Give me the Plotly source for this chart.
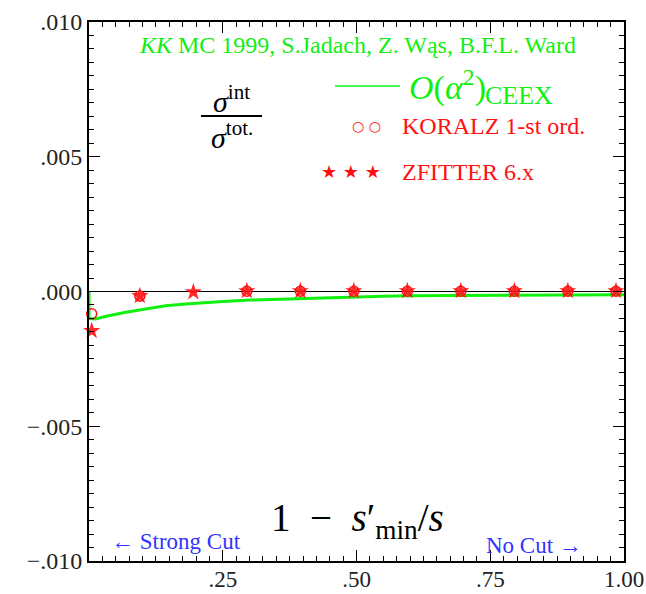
import plotly.graph_objects as go

# ---- data ----
ceex_x = [0.0, 0.0, 0.012, 0.032, 0.069, 0.106, 0.143, 0.181, 0.214, 0.25, 0.302,
          0.35, 0.396, 0.45, 0.489, 0.55, 0.60, 0.70, 0.80, 0.90, 1.0]
ceex_y = [0.0, -0.00100, -0.00102, -0.00092, -0.00077, -0.00064, -0.00053, -0.00046,
          -0.00041, -0.00037, -0.00032, -0.00029, -0.00026, -0.00023, -0.00020,
          -0.00018, -0.00016, -0.00015, -0.00014, -0.00013, -0.00012]

koralz_x = [0.005, 0.095, 0.295, 0.395, 0.495, 0.595, 0.695, 0.795, 0.895, 0.985]
koralz_y = [-0.00083, -0.00017, 0.00001, 0.00001, 0.00001, 0.00001, 0.00001,
            0.00001, 0.00001, 0.00001]

zfitter_x = [0.005, 0.095, 0.195, 0.295, 0.395, 0.495, 0.595, 0.695, 0.795, 0.895, 0.985]
zfitter_y = [-0.00146, -0.00016, -0.00002, 0.00002, 0.00002, 0.00002, 0.00002,
             0.00002, 0.00002, 0.00002, 0.00002]

x_tickvals = [0.25, 0.5, 0.75, 1.0]
x_ticktext = [".25", ".50", ".75", "1.00"]
y_tickvals = [-0.010, -0.005, 0.0, 0.005, 0.010]
y_ticktext = ["\u2212.010", "\u2212.005", ".000", ".005", ".010"]

GREEN = "#11f011"
RED = "#ff1010"
BLUE = "#3333ff"
FONT = "Liberation Serif"

fig = go.Figure()
fig.add_trace(go.Scatter(x=ceex_x, y=ceex_y, mode="lines",
                         line=dict(color=GREEN, width=3), showlegend=False))
fig.add_trace(go.Scatter(x=koralz_x, y=koralz_y, mode="markers", cliponaxis=False,
                         marker=dict(symbol="circle-open", size=10,
                                     line=dict(color=RED, width=1.5), color=RED),
                         showlegend=False))
fig.add_trace(go.Scatter(x=zfitter_x, y=zfitter_y, mode="markers", cliponaxis=False,
                         marker=dict(symbol="star", size=13, color=RED,
                                     line=dict(width=0)),
                         opacity=0.9, showlegend=False))

def px_x(p):
    return (p - 89) / 535.0

def px_y(p):
    return (561 - p) / 539.0

ann = []
ann.append(dict(text="<i>KK</i> MC 1999, S.Jadach, Z. Wąs, B.F.L. Ward",
                x=px_x(357), y=px_y(45), font=dict(size=24, color=GREEN)))
ann.append(dict(text="<i>O</i>(<i>α</i><sup>2</sup>)",
                x=px_x(407), y=px_y(86), xanchor="left",
                font=dict(size=34, color=GREEN)))
ann.append(dict(text="CEEX",
                x=px_x(555), y=px_y(95), xanchor="right",
                font=dict(size=26, color=GREEN)))
ann.append(dict(text="<i>σ</i><sup>int</sup>", x=px_x(231), y=px_y(99),
                font=dict(size=30, color="black")))
ann.append(dict(text="<i>σ</i><sup>tot.</sup>", x=px_x(232), y=px_y(135),
                font=dict(size=30, color="black")))
ann.append(dict(text="○ ○", x=px_x(366), y=px_y(126),
                font=dict(size=14, color=RED, family="DejaVu Sans")))
ann.append(dict(text="KORALZ 1-st ord.", x=px_x(400), y=px_y(126), xanchor="left",
                font=dict(size=24, color=RED)))
ann.append(dict(text="★ ★ ★", x=px_x(351), y=px_y(172),
                font=dict(size=18, color=RED, family="DejaVu Sans")))
ann.append(dict(text="ZFITTER 6.x", x=px_x(400), y=px_y(172), xanchor="left",
                font=dict(size=24, color=RED)))
ann.append(dict(text="1\u2002\u2212\u2002<i>s</i>\u2032<sub>min</sub>/<i>s</i>",
                x=px_x(357), y=px_y(520), font=dict(size=39, color="black")))
ann.append(dict(text="\u2190 Strong Cut", x=px_x(109), y=px_y(541), xanchor="left",
                font=dict(size=23, color=BLUE)))
ann.append(dict(text="No Cut \u2192", x=px_x(584), y=px_y(545), xanchor="right",
                font=dict(size=23, color=BLUE)))

for a in ann:
    a.update(xref="paper", yref="paper", showarrow=False)
    a.setdefault("xanchor", "center")
    a["yanchor"] = "middle"
    a["font"].setdefault("family", FONT)

fig.update_layout(
    annotations=ann,
    shapes=[
        dict(type="line", xref="paper", yref="paper", x0=px_x(335), x1=px_x(400),
             y0=px_y(86), y1=px_y(86), line=dict(color=GREEN, width=1.5)),
        dict(type="line", xref="paper", yref="paper", x0=px_x(201), x1=px_x(262),
             y0=px_y(116), y1=px_y(116), line=dict(color="black", width=2)),
    ],
    width=646, height=594,
    margin=dict(l=89, r=22, t=22, b=33, autoexpand=False),
    paper_bgcolor="white", plot_bgcolor="white",
    font=dict(family=FONT, color="#222222"),
)

fig.update_xaxes(range=[0, 1], tickvals=x_tickvals, ticktext=x_ticktext,
                 ticks="inside", ticklen=11, tickwidth=1, tickcolor="black",
                 showline=True, linewidth=2, linecolor="black", mirror="allticks",
                 showgrid=False, zeroline=False, automargin=False,
                 ticklabelstandoff=-4,
                 tickfont=dict(size=23, family=FONT, color="#222222"),
                 minor=dict(dtick=0.025, ticks="inside", ticklen=5,
                            tickcolor="black", tickwidth=1, showgrid=False))
fig.update_yaxes(range=[-0.010, 0.010], tickvals=y_tickvals, ticktext=y_ticktext,
                 ticks="inside", ticklen=11, tickwidth=1, tickcolor="black",
                 showline=True, linewidth=2, linecolor="black", mirror="allticks",
                 showgrid=False, zeroline=True, zerolinecolor="black",
                 zerolinewidth=1, automargin=False,
                 tickfont=dict(size=24, family=FONT, color="#222222"),
                 minor=dict(dtick=0.0005, ticks="inside", ticklen=5,
                            tickcolor="black", tickwidth=1, showgrid=False))

fig.write_html("out.html", config={"displayModeBar": False},
               post_script="document.body.style.margin='0';")
